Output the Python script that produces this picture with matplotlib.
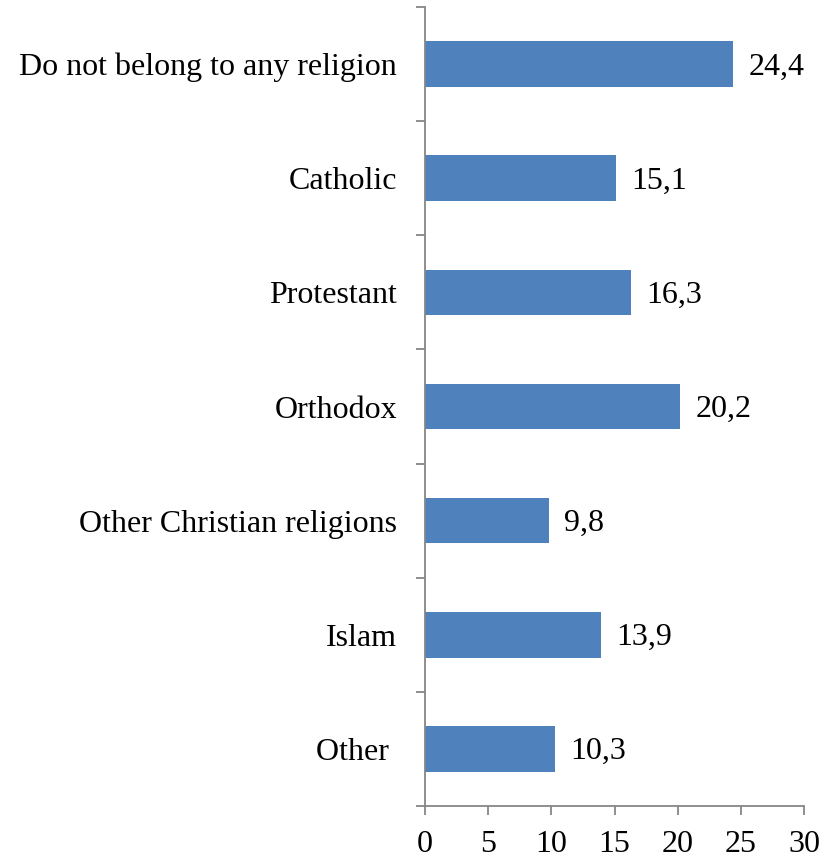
import matplotlib.pyplot as plt
import numpy as np

# Data
categories = ["Do not belong to any religion", "Catholic", "Protestant", "Orthodox",
              "Other Christian religions", "Islam", "Other "]
values = [24.4, 15.1, 16.3, 20.2, 9.8, 13.9, 10.3]
value_labels = ["24,4", "15,1", "16,3", "20,2", "9,8", "13,9", "10,3"]
x_ticks = [0, 5, 10, 15, 20, 25, 30]

plt.rcParams['font.family'] = ['Liberation Serif', 'DejaVu Serif']

fig = plt.figure(figsize=(8.36, 8.6), dpi=100)
ax = fig.add_axes([425 / 836, 1 - 806 / 860, (804 - 425) / 836, (806 - 7) / 860])

bar_color = '#4F81BD'
axis_color = '#868686'

y = np.arange(len(categories))
ax.barh(y, values, height=0.4, color=bar_color)

# value labels to the right of each bar
for yi, v, lab in zip(y, values, value_labels):
    ax.annotate(lab, (v, yi), xytext=(11, -2), textcoords='offset points',
                ha='left', va='center', fontsize=23)

ax.set_ylim(len(categories) - 0.5, -0.5)
ax.set_xlim(0, 30)
ax.set_xticks(x_ticks)
ax.set_xticklabels([str(t) for t in x_ticks], fontsize=23)

ax.set_yticks(y)
ax.set_yticklabels(categories, fontsize=23)
ax.set_yticks(np.arange(-0.5, len(categories)), minor=True)
ax.tick_params(axis='y', which='major', length=0, pad=20)
ax.tick_params(axis='y', which='minor', length=6.5, width=1.3, color=axis_color)
ax.tick_params(axis='x', which='major', length=6.5, width=1.3, color=axis_color, pad=11)

for s in ['top', 'right']:
    ax.spines[s].set_visible(False)
for s in ['left', 'bottom']:
    ax.spines[s].set_color(axis_color)
    ax.spines[s].set_linewidth(1.3)

fig.savefig("out.png", dpi=100)
